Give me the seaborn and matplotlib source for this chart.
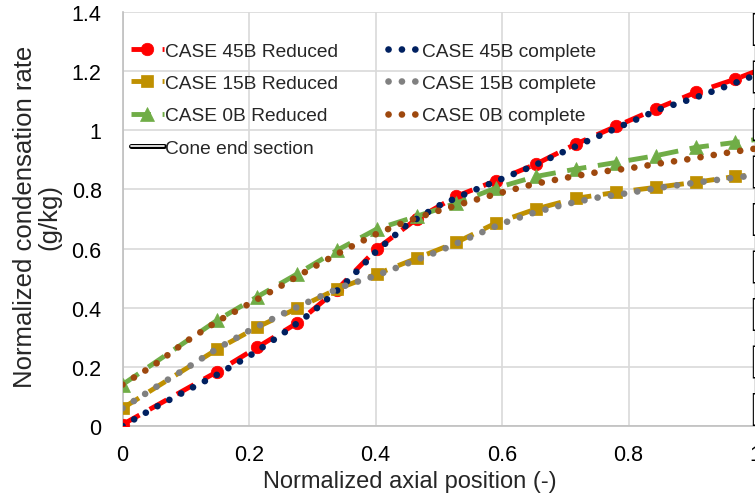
import matplotlib
matplotlib.use("Agg")
import matplotlib.pyplot as plt
import matplotlib.patheffects as pe
from matplotlib.lines import Line2D
from matplotlib.ticker import FuncFormatter
import seaborn as sns
import pandas as pd

# Reduced-model results (sampled at marker stations)
x_reduced = [0.0, 0.150, 0.213, 0.276, 0.339, 0.402, 0.465, 0.528, 0.591,
             0.654, 0.717, 0.780, 0.843, 0.906, 0.969, 1.032]
case45_reduced = [0.005, 0.184, 0.266, 0.348, 0.461, 0.599, 0.700, 0.777, 0.830,
                  0.886, 0.954, 1.013, 1.072, 1.128, 1.173, 1.225]
case15_reduced = [0.060, 0.260, 0.334, 0.398, 0.463, 0.514, 0.567, 0.621, 0.687,
                  0.734, 0.770, 0.790, 0.807, 0.824, 0.844, 0.855]
case0_reduced = [0.140, 0.358, 0.437, 0.514, 0.594, 0.666, 0.709, 0.754, 0.805,
                 0.844, 0.869, 0.891, 0.914, 0.942, 0.959, 0.978]

# Complete-model results
x_complete = [0.00, 0.05, 0.10, 0.15, 0.20, 0.25, 0.30, 0.35, 0.40, 0.45, 0.50,
              0.55, 0.60, 0.65, 0.70, 0.75, 0.80, 0.85, 0.90, 0.95, 1.00]
case45_complete = [0.000, 0.061, 0.118, 0.174, 0.236, 0.307, 0.385, 0.478, 0.588, 0.681, 0.745,
                   0.792, 0.836, 0.880, 0.930, 0.978, 1.025, 1.072, 1.106, 1.145, 1.186]
case15_complete = [0.060, 0.128, 0.194, 0.262, 0.322, 0.376, 0.426, 0.473, 0.508, 0.549, 0.591,
                   0.638, 0.685, 0.721, 0.750, 0.772, 0.788, 0.806, 0.821, 0.835, 0.848]
case0_complete = [0.140, 0.206, 0.285, 0.354, 0.413, 0.473, 0.535, 0.594, 0.648, 0.693, 0.728,
                  0.760, 0.790, 0.818, 0.839, 0.858, 0.871, 0.888, 0.904, 0.922, 0.938]

cone_end_x = 1.0

x_ticks = [0, 0.2, 0.4, 0.6, 0.8, 1.0]
y_ticks = [0, 0.2, 0.4, 0.6, 0.8, 1.0, 1.2, 1.4]

sns.set_style("white")
plt.rcParams["font.family"] = ["Liberation Sans", "DejaVu Sans"]

fig = plt.figure(figsize=(7.55, 5.02), dpi=100)
ax = fig.add_axes([122.5 / 755, 75 / 502, 632.5 / 755, 414 / 502])

reduced_specs = [
    ("CASE 45B Reduced", case45_reduced, "#FF0000", "o", 9.0),
    ("CASE 15B Reduced", case15_reduced, "#BF9000", "s", 8.3),
    ("CASE 0B Reduced", case0_reduced, "#70AD47", "^", 9.5),
]
complete_specs = [
    ("CASE 45B complete", case45_complete, "#002060"),
    ("CASE 15B complete", case15_complete, "#808080"),
    ("CASE 0B complete", case0_complete, "#9E480E"),
]

handles = {}
for label, yvals, color, marker, ms in reduced_specs:
    df = pd.DataFrame({"x": x_reduced, "y": yvals})
    sns.lineplot(data=df, x="x", y="y", ax=ax, color=color, lw=3.5,
                 linestyle=(0, (4, 2.4)), marker=marker, markersize=ms,
                 markeredgecolor=color, markerfacecolor=color,
                 markeredgewidth=0.5, zorder=3, label=label, legend=False)
    handles[label] = ax.lines[-1]

for label, yvals, color in complete_specs:
    df = pd.DataFrame({"x": x_complete, "y": yvals})
    sns.lineplot(data=df, x="x", y="y", ax=ax, color=color, lw=4.8,
                 linestyle=(0, (0.01, 2.0)), dash_capstyle="round",
                 zorder=4, label=label, legend=False)
    handles[label] = ax.lines[-1]

# Cone end section: outlined (double) dashed line
px = 72 / 100  # points per pixel
black_lw, white_lw = 4.4 * px, 2.2 * px
ax.axvline(cone_end_x, color="black", lw=black_lw,
           linestyle=(0, (33 * px / black_lw, 14.5 * px / black_lw)),
           dash_capstyle="butt", zorder=5)
ax.axvline(cone_end_x, color="white", lw=white_lw,
           linestyle=(46 * px / white_lw, (30 * px / white_lw, 17.5 * px / white_lw)),
           dash_capstyle="butt", zorder=6)

cone_handle = Line2D([], [], color="white", lw=1.2,
                     path_effects=[pe.Stroke(linewidth=3.6, foreground="black"), pe.Normal()])

ax.set_xlim(0, 1.0)
ax.set_ylim(0, 1.4)
ax.set_xticks(x_ticks)
ax.set_yticks(y_ticks)
fmt = FuncFormatter(lambda v, p: f"{v:g}")
ax.xaxis.set_major_formatter(fmt)
ax.yaxis.set_major_formatter(fmt)
ax.tick_params(axis="both", length=0, labelsize=15.5, colors="black")
ax.tick_params(axis="y", pad=15)
ax.tick_params(axis="x", pad=13)

ax.grid(True, color="#D9D9D9", lw=1.2)
ax.set_axisbelow(True)
for side in ["top", "right"]:
    ax.spines[side].set_visible(False)
for side in ["left", "bottom"]:
    ax.spines[side].set_color("#BFBFBF")
    ax.spines[side].set_linewidth(1.2)

ax.set_xlabel("Normalized axial position (-)", fontsize=17)
ax.set_ylabel("Normalized condensation rate\n(g/kg)", fontsize=18.5, linespacing=1.05)
ax.xaxis.set_label_coords(0.4538, -0.106)
ax.yaxis.set_label_coords(-0.096, 0.507)

order = ["CASE 45B Reduced", "CASE 15B Reduced", "CASE 0B Reduced", "Cone end section",
         "CASE 45B complete", "CASE 15B complete", "CASE 0B complete"]
handles["Cone end section"] = cone_handle
leg = ax.legend([handles[k] for k in order], order, ncol=2, loc="upper left",
                bbox_to_anchor=(0.0134, 0.927), borderaxespad=0, borderpad=0,
                frameon=False, fontsize=13.8, handlelength=1.7, handletextpad=0.05,
                columnspacing=2.65, labelspacing=0.78)

fig.savefig("out.png", dpi=100)
